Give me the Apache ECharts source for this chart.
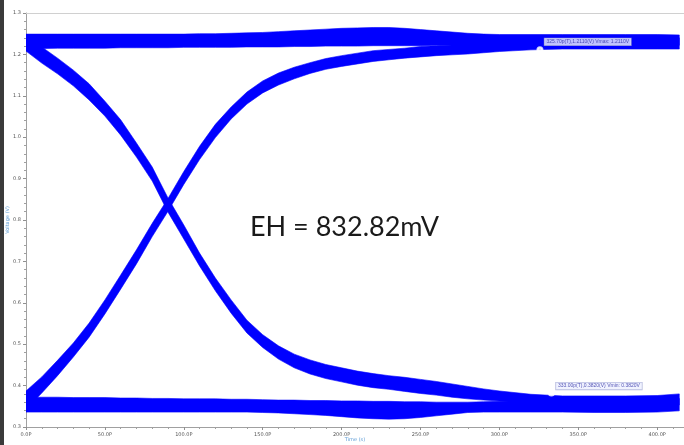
<!DOCTYPE html>
<html>
<head>
<meta charset="utf-8">
<title>Eye diagram</title>
<script src="https://cdn.jsdelivr.net/npm/echarts@6/dist/echarts.min.js"></script>
<style>
  html, body { margin: 0; padding: 0; background: #fff; }
  #chart { width: 684px; height: 445px; }
</style>
</head>
<body>
<div id="chart"></div>
<script>
// sample times (ps) and the upper / lower edge (V) of each traced band
var timePs = [0, 10, 20, 30, 40, 50, 60, 70, 80, 90, 100, 110, 120, 130, 140, 150, 160, 170, 180, 190,
  200, 210, 220, 230, 240, 250, 260, 270, 280, 290, 300, 320, 340, 360, 380, 400, 414];

// steady high (1 -> 1)
var highHi = [1.249, 1.249, 1.249, 1.249, 1.249, 1.249, 1.249, 1.249, 1.249, 1.249,
  1.249, 1.250, 1.250, 1.251, 1.252, 1.253, 1.255, 1.257, 1.259, 1.261, 1.263, 1.264, 1.265, 1.265, 1.263,
  1.260, 1.257, 1.254, 1.251, 1.249, 1.248,
  1.248, 1.248, 1.248, 1.248, 1.248, 1.247];
var highLo = [1.214, 1.214, 1.215, 1.215, 1.215, 1.215, 1.216, 1.216, 1.216, 1.216, 1.217, 1.217, 1.217, 1.217,
  1.218, 1.218, 1.218, 1.219, 1.219, 1.220, 1.220, 1.220, 1.221, 1.221, 1.221, 1.221, 1.222, 1.222, 1.223, 1.223, 1.222,
  1.222, 1.222, 1.222, 1.222, 1.222, 1.222];

// rising edge (0 -> 1)
var riseHi = [0.387, 0.421, 0.461, 0.503, 0.551, 0.607, 0.667, 0.728, 0.792, 0.852, 0.917, 0.978, 1.031, 1.073, 1.109,
  1.136, 1.155, 1.169, 1.180, 1.190, 1.197, 1.203, 1.209, 1.212, 1.215, 1.219, 1.221, 1.223, 1.225, 1.226, 1.226,
  1.230, 1.232, 1.237, 1.237, 1.240, 1.240];
var riseLo = [0.343, 0.382, 0.424, 0.469, 0.517, 0.573, 0.633, 0.694, 0.760, 0.821, 0.886, 0.946, 0.999, 1.044, 1.080,
  1.107, 1.126, 1.141, 1.154, 1.164, 1.171, 1.177, 1.183, 1.187, 1.191, 1.194, 1.197, 1.199, 1.201, 1.204, 1.207,
  1.211, 1.213, 1.213, 1.213, 1.213, 1.213];

// falling edge (1 -> 0)
var fallHi = [1.225, 1.218, 1.191, 1.162, 1.129, 1.087, 1.042, 0.986, 0.928, 0.853, 0.788, 0.720, 0.660, 0.607, 0.558,
  0.523, 0.496, 0.476, 0.462, 0.451, 0.443, 0.435, 0.429, 0.424, 0.420, 0.415, 0.410, 0.404, 0.398, 0.392, 0.387,
  0.379, 0.375, 0.375, 0.375, 0.376, 0.380];
var fallLo = [1.208, 1.179, 1.153, 1.124, 1.090, 1.051, 1.005, 0.952, 0.894, 0.819, 0.754, 0.689, 0.629, 0.575, 0.527,
  0.492, 0.464, 0.443, 0.428, 0.417, 0.409, 0.401, 0.395, 0.391, 0.386, 0.381, 0.377, 0.372, 0.368, 0.365, 0.363,
  0.360, 0.356, 0.353, 0.353, 0.353, 0.353];

// steady low (0 -> 0)
var lowHi = [0.372, 0.372, 0.372, 0.371, 0.371, 0.371, 0.370, 0.370, 0.369, 0.369, 0.368, 0.368, 0.368, 0.367, 0.367,
  0.366, 0.365, 0.365, 0.364, 0.364, 0.363, 0.363, 0.362, 0.362, 0.361, 0.361, 0.360, 0.360, 0.360, 0.361, 0.362,
  0.364, 0.365, 0.366, 0.367, 0.368, 0.369];
var lowLo = [0.336, 0.336, 0.336, 0.336, 0.336, 0.336, 0.336, 0.336, 0.336, 0.336, 0.336, 0.336, 0.336, 0.336,
  0.336, 0.335, 0.334, 0.332, 0.330, 0.328, 0.325, 0.322, 0.320, 0.319, 0.320, 0.323, 0.327, 0.331, 0.335, 0.336, 0.336,
  0.336, 0.336, 0.335, 0.335, 0.336, 0.339];

var xTicks = [0, 50, 100, 150, 200, 250, 300, 350, 400];

// cursor markers [ps, V] and their read-outs
var cursorHigh = [325.7, 1.211];
var cursorLow = [333.0, 0.382];
var cursorHighText = "325.70p(T),1.2110(V) Vmax: 1.2110V";
var cursorLowText = "333.00p(T),0.3820(V) Vmin: 0.3820V";
var eyeText = "EH = 832.82mV";

var BLUE = "#0000ff";

function band(name, hi, lo) {
  return {
    type: "custom",
    name: name,
    silent: true,
    clip: true,
    data: timePs.map(function (t, i) { return [t, lo[i], hi[i]]; }),
    encode: { x: 0, y: [1, 2] },
    renderItem: function (params, api) {
      if (params.dataIndex !== 0) return null;
      var pts = [];
      for (var i = 0; i < timePs.length; i++) pts.push(api.coord([timePs[i], hi[i]]));
      for (var j = timePs.length - 1; j >= 0; j--) pts.push(api.coord([timePs[j], lo[j]]));
      return {
        type: "polygon",
        shape: { points: pts },
        style: { fill: BLUE, stroke: BLUE, lineWidth: 0.6, lineJoin: "round" }
      };
    }
  };
}

function cursor(point, text, offset) {
  return {
    type: "scatter",
    silent: true,
    data: [point],
    symbol: "emptyCircle",
    symbolSize: 5,
    itemStyle: { color: "#ffffff", borderColor: "#9090c0", borderWidth: 0.8 },
    label: {
      show: true,
      position: "right",
      distance: 1,
      offset: offset,
      formatter: text,
      fontSize: 5,
      fontFamily: "Liberation Sans",
      color: "#2a2aa0",
      backgroundColor: "#eef0ff",
      borderColor: "#9aa0d0",
      borderWidth: 0.6,
      padding: [1, 2]
    },
    z: 5
  };
}

var chart = echarts.init(document.getElementById("chart"), null, { renderer: "canvas" });
chart.setOption({
  animation: false,
  backgroundColor: "#ffffff",
  grid: { left: 26, right: 0, top: 13, bottom: 18, outerBoundsMode: "none", containLabel: false },
  xAxis: [
    {
      type: "value",
      min: 0,
      max: 417,
      interval: 50,
      position: "bottom",
      name: "Time (s)",
      nameLocation: "middle",
      nameGap: 10,
      nameMoveOverlap: false,
      nameTextStyle: { fontSize: 5, color: "#5b9bd5", fontFamily: "DejaVu Sans" },
      axisLine: { lineStyle: { color: "#a0a0a0", width: 1 } },
      axisTick: { length: 3, lineStyle: { color: "#909090" } },
      minorTick: { show: true, splitNumber: 5, length: 2, lineStyle: { color: "#a0a0a0" } },
      splitLine: { show: false },
      axisLabel: {
        fontSize: 5,
        color: "#555",
        fontFamily: "DejaVu Sans",
        margin: 5,
        formatter: function (v) { return xTicks.indexOf(v) >= 0 ? v.toFixed(1) + "P" : ""; }
      }
    },
    {
      type: "value",
      min: 0,
      max: 417,
      position: "top",
      axisLine: { lineStyle: { color: "#d0d0d0", width: 1 } },
      axisTick: { show: false },
      axisLabel: { show: false },
      splitLine: { show: false }
    }
  ],
  yAxis: {
    type: "value",
    min: 0.3,
    max: 1.3,
    interval: 0.1,
    name: "Voltage (V)",
    nameLocation: "middle",
    nameGap: 16,
    nameMoveOverlap: false,
    nameTextStyle: { fontSize: 5, color: "#5b9bd5", fontFamily: "DejaVu Sans" },
    axisLine: { show: true, lineStyle: { color: "#a0a0a0", width: 1 } },
    axisTick: { show: true, length: 3, lineStyle: { color: "#909090" } },
    minorTick: { show: true, splitNumber: 5, length: 2, lineStyle: { color: "#a0a0a0" } },
    splitLine: { show: false },
    axisLabel: {
      fontSize: 5,
      color: "#555",
      fontFamily: "DejaVu Sans",
      margin: 5,
      formatter: function (v) { return v.toFixed(1); }
    }
  },
  graphic: [
    { type: "rect", left: 0, top: 0, shape: { width: 4, height: 445 }, style: { fill: "#3a3a3a" }, silent: true },
    {
      type: "text",
      left: 250,
      top: 214,
      style: { text: eyeText, font: "27px Lato", fill: "#1a1a1a" },
      silent: true
    }
  ],
  series: [
    band("high", highHi, highLo),
    band("low", lowHi, lowLo),
    band("rise", riseHi, riseLo),
    band("fall", fallHi, fallLo),
    cursor(cursorHigh, cursorHighText, [0, -8]),
    cursor(cursorLow, cursorLowText, [0, -7])
  ]
});
</script>
</body>
</html>
